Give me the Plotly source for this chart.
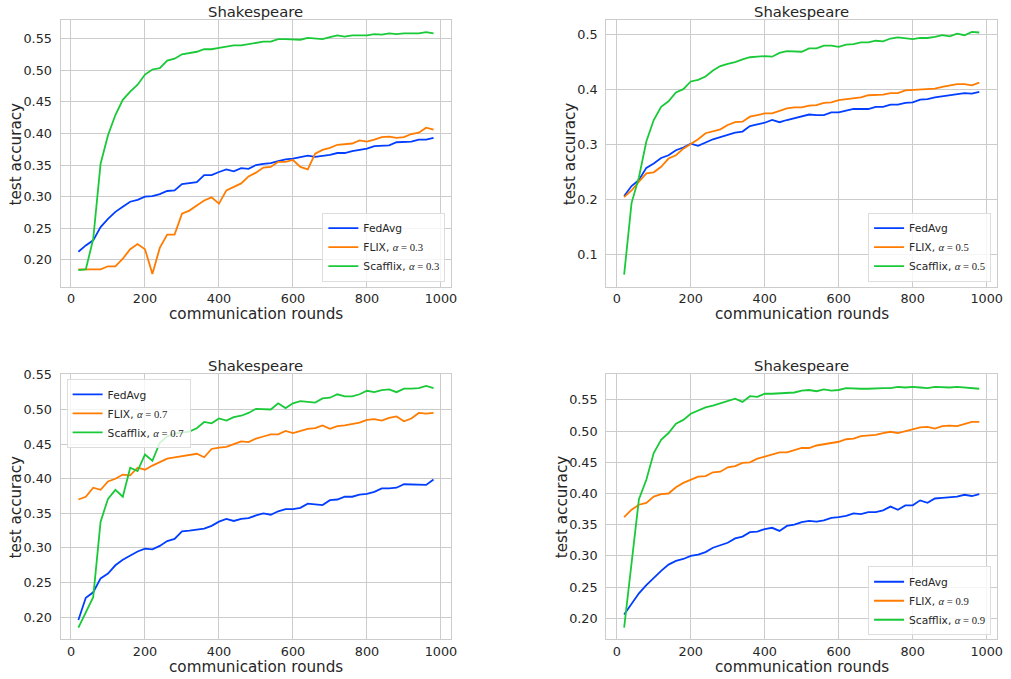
import plotly.graph_objects as go

rounds = list(range(20, 1000, 20))

# Panel 1: alpha = 0.3
fedavg_a3 = [0.213,0.223,0.231,0.252,0.265,0.276,0.284,0.292,0.295,0.300,0.301,0.304,0.309,0.310,0.320,0.322,0.323,0.334,0.334,0.339,0.343,0.340,0.345,0.344,0.350,0.352,0.353,0.356,0.359,0.360,0.362,0.365,0.363,0.364,0.366,0.369,0.369,0.372,0.374,0.376,0.380,0.380,0.381,0.386,0.386,0.387,0.390,0.390,0.393]
flix_a3 = [0.185,0.185,0.185,0.185,0.190,0.190,0.202,0.217,0.225,0.217,0.178,0.219,0.240,0.240,0.273,0.278,0.286,0.294,0.299,0.289,0.310,0.316,0.321,0.332,0.338,0.346,0.347,0.355,0.355,0.358,0.347,0.343,0.368,0.374,0.377,0.382,0.383,0.384,0.389,0.387,0.390,0.394,0.395,0.393,0.394,0.399,0.401,0.409,0.406]
scafflix_a3 = [0.184,0.185,0.233,0.352,0.397,0.429,0.453,0.466,0.477,0.493,0.501,0.503,0.515,0.518,0.525,0.527,0.529,0.533,0.533,0.535,0.537,0.539,0.539,0.541,0.543,0.545,0.545,0.549,0.549,0.549,0.548,0.551,0.550,0.549,0.552,0.555,0.553,0.555,0.555,0.555,0.557,0.556,0.558,0.557,0.558,0.558,0.558,0.560,0.558]

# Panel 2: alpha = 0.5
fedavg_a5 = [0.206,0.224,0.235,0.257,0.265,0.275,0.280,0.289,0.294,0.301,0.297,0.303,0.309,0.313,0.317,0.321,0.323,0.333,0.336,0.339,0.344,0.340,0.344,0.347,0.350,0.354,0.353,0.353,0.358,0.358,0.361,0.364,0.364,0.364,0.368,0.368,0.372,0.372,0.375,0.376,0.381,0.382,0.385,0.387,0.388,0.390,0.393,0.392,0.395]
flix_a5 = [0.204,0.216,0.232,0.247,0.249,0.259,0.274,0.280,0.292,0.300,0.309,0.320,0.324,0.327,0.335,0.340,0.341,0.350,0.353,0.356,0.356,0.361,0.365,0.367,0.367,0.370,0.371,0.375,0.376,0.380,0.382,0.384,0.385,0.389,0.389,0.390,0.393,0.393,0.398,0.399,0.400,0.401,0.401,0.404,0.406,0.409,0.409,0.407,0.412]
scafflix_a5 = [0.063,0.193,0.240,0.305,0.344,0.368,0.378,0.394,0.400,0.414,0.417,0.423,0.434,0.442,0.446,0.449,0.454,0.458,0.459,0.460,0.459,0.466,0.469,0.469,0.468,0.474,0.474,0.479,0.479,0.477,0.481,0.482,0.485,0.485,0.488,0.487,0.492,0.494,0.492,0.491,0.493,0.493,0.495,0.498,0.496,0.501,0.498,0.504,0.503]

# Panel 3: alpha = 0.7
fedavg_a7 = [0.196,0.228,0.236,0.256,0.263,0.275,0.283,0.289,0.295,0.299,0.298,0.303,0.310,0.313,0.324,0.325,0.326,0.328,0.332,0.338,0.342,0.339,0.342,0.343,0.347,0.350,0.348,0.353,0.356,0.356,0.358,0.364,0.363,0.362,0.369,0.370,0.374,0.374,0.377,0.378,0.381,0.386,0.386,0.387,0.392,0.392,0.392,0.391,0.399]
flix_a7 = [0.370,0.374,0.387,0.384,0.396,0.400,0.406,0.405,0.416,0.413,0.419,0.424,0.429,0.431,0.433,0.435,0.436,0.431,0.443,0.445,0.446,0.450,0.454,0.453,0.458,0.461,0.464,0.464,0.469,0.466,0.469,0.472,0.473,0.477,0.472,0.476,0.477,0.479,0.481,0.485,0.486,0.484,0.488,0.490,0.483,0.487,0.495,0.494,0.495]
scafflix_a7 = [0.185,0.208,0.229,0.338,0.371,0.384,0.374,0.416,0.411,0.435,0.426,0.452,0.461,0.465,0.466,0.468,0.473,0.482,0.480,0.487,0.484,0.489,0.491,0.495,0.501,0.500,0.500,0.509,0.502,0.509,0.512,0.511,0.510,0.516,0.517,0.522,0.519,0.519,0.522,0.527,0.525,0.528,0.529,0.525,0.530,0.530,0.531,0.534,0.531]

# Panel 4: alpha = 0.9
fedavg_a9 = [0.206,0.224,0.240,0.253,0.265,0.276,0.286,0.292,0.295,0.300,0.302,0.306,0.313,0.317,0.321,0.328,0.331,0.338,0.339,0.343,0.345,0.340,0.348,0.350,0.354,0.356,0.355,0.357,0.361,0.362,0.364,0.368,0.367,0.370,0.370,0.373,0.379,0.374,0.381,0.381,0.389,0.385,0.392,0.393,0.394,0.395,0.398,0.396,0.399]
flix_a9 = [0.362,0.374,0.382,0.385,0.395,0.399,0.400,0.410,0.417,0.422,0.427,0.428,0.434,0.435,0.442,0.444,0.449,0.450,0.456,0.459,0.462,0.466,0.466,0.469,0.473,0.473,0.477,0.479,0.481,0.483,0.487,0.488,0.492,0.493,0.494,0.497,0.499,0.497,0.500,0.503,0.506,0.507,0.504,0.508,0.509,0.508,0.511,0.515,0.515]
scafflix_a9 = [0.185,0.290,0.391,0.422,0.465,0.486,0.497,0.512,0.518,0.528,0.533,0.538,0.541,0.545,0.549,0.552,0.547,0.556,0.555,0.560,0.560,0.561,0.561,0.562,0.565,0.566,0.564,0.567,0.565,0.566,0.569,0.568,0.568,0.568,0.569,0.569,0.569,0.571,0.570,0.571,0.570,0.569,0.571,0.570,0.570,0.571,0.570,0.570,0.568]

alphas = ["0.3", "0.5", "0.7", "0.9"]
panels = [
    (fedavg_a3, flix_a3, scafflix_a3),
    (fedavg_a5, flix_a5, scafflix_a5),
    (fedavg_a7, flix_a7, scafflix_a7),
    (fedavg_a9, flix_a9, scafflix_a9),
]
y_ranges = [[0.1576, 0.5786], [0.041, 0.525], [0.1681, 0.5514], [0.1662, 0.5918]]
y_ticks = [
    [0.20, 0.25, 0.30, 0.35, 0.40, 0.45, 0.50, 0.55],
    [0.1, 0.2, 0.3, 0.4, 0.5],
    [0.20, 0.25, 0.30, 0.35, 0.40, 0.45, 0.50, 0.55],
    [0.20, 0.25, 0.30, 0.35, 0.40, 0.45, 0.50, 0.55],
]
y_fmt = [".2f", ".1f", ".2f", ".2f"]

COLORS = ["#023eff", "#ff7c00", "#1ac938"]
TXT = "#262626"
GRID = "#cccccc"
W, H = 1011, 679


def fx(px):
    return px / W


def fy(py):
    return 1 - ((py - 7.8) / 0.977) / H


# target pixel boxes (left, right, top, bottom)
boxes = [(61, 454, 21, 284), (610, 1003, 21, 284), (61, 454, 370, 632), (610, 1003, 370, 632)]
xtitle_y = [311, 311, 659, 659]
ytitle_x = [16, 573, 16, 565]
legend_pos = [
    dict(x=fx(448), y=fy(279), xanchor="right", yanchor="bottom"),
    dict(x=fx(997), y=fy(279), xanchor="right", yanchor="bottom"),
    dict(x=fx(67), y=fy(375), xanchor="left", yanchor="top"),
    dict(x=fx(997), y=fy(628), xanchor="right", yanchor="bottom"),
]

fig = go.Figure()
layout = dict(
    width=W, height=H,
    margin=dict(l=0, r=0, t=0, b=0),
    paper_bgcolor="white", plot_bgcolor="white",
    font=dict(family="DejaVu Sans", color=TXT, size=12.8),
    showlegend=True,
    annotations=[],
)

for i, (a, series) in enumerate(zip(alphas, panels)):
    n = "" if i == 0 else str(i + 1)
    xa, ya = "x" + n, "y" + n
    lg = "legend" + n
    names = [
        "FedAvg",
        "FLIX, <span style='font-family:Liberation Serif'><i>α</i> = " + a + "</span>",
        "Scafflix, <span style='font-family:Liberation Serif'><i>α</i> = " + a + "</span>",
    ]
    for name, vals, col in zip(names, series, COLORS):
        fig.add_trace(go.Scatter(x=rounds, y=vals, mode="lines", name=name,
                                 line=dict(color=col, width=1.8),
                                 xaxis=xa, yaxis=ya, legend=lg))
    l, r, t, b = boxes[i]
    axcommon = dict(showgrid=True, gridcolor=GRID, gridwidth=1,
                    showline=True, linecolor=GRID, linewidth=1.3, mirror=True,
                    zeroline=False, tickfont=dict(size=12.8, color=TXT))
    layout["xaxis" + n] = dict(axcommon, domain=[fx(l), fx(r)], anchor=ya,
                               ticks="", range=[-28, 1028], tickvals=[0, 200, 400, 600, 800, 1000])
    layout["yaxis" + n] = dict(axcommon, domain=[fy(b), fy(t)], anchor=xa,
                               ticks="outside", ticklen=5, tickcolor="rgba(0,0,0,0)",
                               range=y_ranges[i], tickvals=y_ticks[i], tickformat=y_fmt[i])
    layout[lg] = dict(legend_pos[i], bgcolor="rgba(255,255,255,0.8)", bordercolor="#dddddd",
                      borderwidth=1, font=dict(size=10.7, color=TXT), itemwidth=30,
                      tracegroupgap=0)
    cx = (l + r) / 2
    layout["annotations"] += [
        dict(text="Shakespeare", x=fx(cx), y=fy(t - 8.3), xref="paper", yref="paper",
             xanchor="center", yanchor="middle", showarrow=False,
             font=dict(size=14.8, color=TXT)),
        dict(text="communication rounds", x=fx(cx), y=fy(xtitle_y[i]), xref="paper", yref="paper",
             xanchor="center", yanchor="middle", showarrow=False,
             font=dict(size=15.2, color=TXT)),
        dict(text="test accuracy", x=fx(ytitle_x[i]), y=fy((t + b) / 2), xref="paper", yref="paper",
             xanchor="center", yanchor="middle", textangle=-90, showarrow=False,
             font=dict(size=15.2, color=TXT)),
    ]

fig.update_layout(**layout)
fig.write_html("out.html")
